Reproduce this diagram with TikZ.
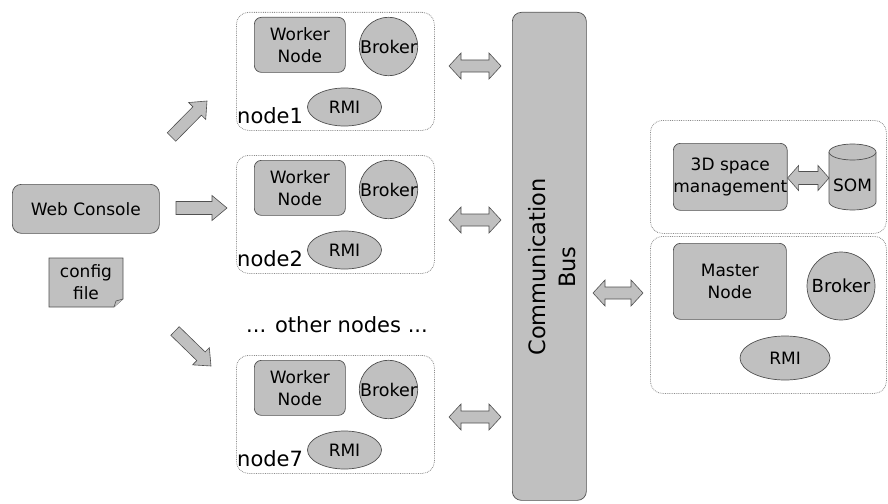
\documentclass[tikz,border=0pt]{standalone}
\usepackage{fontspec}
\setmainfont{DejaVu Sans}
\usetikzlibrary{shapes.geometric,calc}
\definecolor{boxfill}{HTML}{C0C0C0}
\definecolor{boxline}{HTML}{505050}
\definecolor{dotline}{HTML}{8C8C8C}
\newcommand\blockarrow[5]{% tail, tip, half shaft, half head, head length
  \coordinate (tmpM) at ($(#2)!#5!(#1)$);
  \draw[barrow] ($(#1)!#3!90:(#2)$) -- ($(tmpM)!#3!-90:(#1)$) -- ($(tmpM)!#4!-90:(#1)$) -- (#2)
    -- ($(tmpM)!#4!90:(#1)$) -- ($(tmpM)!#3!90:(#1)$) -- ($(#1)!#3!-90:(#2)$) -- cycle;}
\newcommand\dblblockarrow[5]{% end, end, half shaft, half head, head length
  \coordinate (tmpA) at ($(#1)!#5!(#2)$);
  \coordinate (tmpB) at ($(#2)!#5!(#1)$);
  \draw[barrow] (#1) -- ($(tmpA)!#4!90:(#2)$) -- ($(tmpA)!#3!90:(#2)$) -- ($(tmpB)!#3!-90:(#1)$)
    -- ($(tmpB)!#4!-90:(#1)$) -- (#2) -- ($(tmpB)!#4!90:(#1)$) -- ($(tmpB)!#3!90:(#1)$)
    -- ($(tmpA)!#3!-90:(#2)$) -- ($(tmpA)!#4!-90:(#2)$) -- cycle;}
\tikzset{
  container/.style={draw=dotline, densely dotted, line width=0.8pt, rounded corners=12pt, anchor=north west, inner sep=0pt},
  graybox/.style={draw=boxline, fill=boxfill, rounded corners=7pt, anchor=north west, inner sep=0pt, align=center, line width=0.7pt, font=\fontsize{17}{22}\selectfont},
  brokernode/.style={circle, draw=boxline, fill=boxfill, inner sep=0pt, line width=0.7pt, font=\fontsize{17.5}{22}\selectfont},
  rminode/.style={ellipse, draw=boxline, fill=boxfill, inner sep=0pt, line width=0.7pt, font=\fontsize{17}{22}\selectfont},
  biglabel/.style={font=\fontsize{21}{25}\selectfont, inner sep=0pt},
  barrow/.style={draw=boxline, fill=boxfill, line width=0.6pt, line join=miter},
  plaintext/.style={inner sep=0pt, align=center, font=\fontsize{17}{22}\selectfont}
}
\begin{document}
\begin{tikzpicture}[x=1pt,y=-1pt]
\useasboundingbox (0,0) rectangle (888,503);

% Web console and config file
\node[graybox, rounded corners=9pt, minimum width=147, minimum height=49] (web) at (12,184) {Web Console};
\draw[barrow] (49,258) -- (123,258) -- (123,299) -- (114,307) -- (49,307) -- cycle;
\draw[barrow] (123,299) -- (116,301) -- (114,307);
\node[plaintext] (cfg) at (86,282) {config\\file};

% worker containers
\foreach \t/\name/\lab in {12/c1/node1, 155/c2/node2, 355/c7/node7}{
  \node[container, minimum width=198, minimum height=118] (\name) at (236,\t) {};
  \node[graybox, minimum width=91, minimum height=55] (\name w) at (254,\t+5) {Worker\\Node};
  \node[brokernode, minimum size=53] (\name b) at (388.5,\t+34.5) {Broker};
  \node[rminode, minimum width=74, minimum height=38] (\name r) at (344.5,\t+95) {RMI};
  \node[biglabel, anchor=base west] (\name l) at (237,\t+111) {\lab};
}
\node[biglabel] (other) at (337,325) {... other nodes ...};

% bus
\node[graybox, rounded corners=9pt, minimum width=74, minimum height=488] (bus) at (512,12) {};
\node[rotate=90, align=center, inner sep=0pt, font=\fontsize{22.5}{30}\selectfont] (bustext) at (552,267) {Communication\\Bus};

% right containers
\node[container, minimum width=236, minimum height=113] (ctop) at (650,120) {};
\node[graybox, minimum width=112, minimum height=67] (space) at (673,143) {3D space\\management};
\fill[boxfill] (829,152) rectangle (876,202);
\fill[boxfill] (852.5,202) ellipse[x radius=23.5, y radius=8];
\draw[boxline, line width=0.7pt] (829,152) -- (829,202) arc[start angle=180, end angle=0, x radius=23.5, y radius=8] -- (876,152);
\draw[boxline, fill=boxfill, line width=0.7pt] (852.5,152) ellipse[x radius=23.5, y radius=8];
\node[inner sep=0pt, font=\fontsize{17}{22}\selectfont] (som) at (852.5,185) {SOM};

\node[container, minimum width=236, minimum height=157] (cmaster) at (650,236) {};
\node[graybox, minimum width=113, minimum height=76] (master) at (673,243) {Master\\Node};
\node[brokernode, minimum size=68, font=\fontsize{18}{22}\selectfont] (mbroker) at (841,286) {Broker};
\node[rminode, minimum width=90, minimum height=44] (mrmi) at (785,358) {RMI};

% arrow end points
\coordinate (a1t) at (171.5,137); \coordinate (a1h) at (207,101);
\coordinate (a2t) at (176,208);   \coordinate (a2h) at (227,208);
\coordinate (a3t) at (175,331);   \coordinate (a3h) at (211,366);
\coordinate (d1a) at (449,66);  \coordinate (d1b) at (501,66);
\coordinate (d2a) at (449,220); \coordinate (d2b) at (501,220);
\coordinate (d3a) at (449,417); \coordinate (d3b) at (501,417);
\coordinate (d4a) at (593,293); \coordinate (d4b) at (643,293);
\coordinate (d5a) at (space.east |- 0,178); \coordinate (d5b) at (829,178);

\blockarrow{a1t}{a1h}{6pt}{12pt}{14pt}
\blockarrow{a2t}{a2h}{6.5pt}{12.5pt}{15pt}
\blockarrow{a3t}{a3h}{6pt}{12pt}{14pt}
\dblblockarrow{d1a}{d1b}{6pt}{13pt}{12pt}
\dblblockarrow{d2a}{d2b}{6pt}{13pt}{12pt}
\dblblockarrow{d3a}{d3b}{6pt}{13pt}{12pt}
\dblblockarrow{d4a}{d4b}{6pt}{13pt}{12pt}
\dblblockarrow{d5a}{d5b}{6.5pt}{12.5pt}{11pt}
\end{tikzpicture}
\end{document}
